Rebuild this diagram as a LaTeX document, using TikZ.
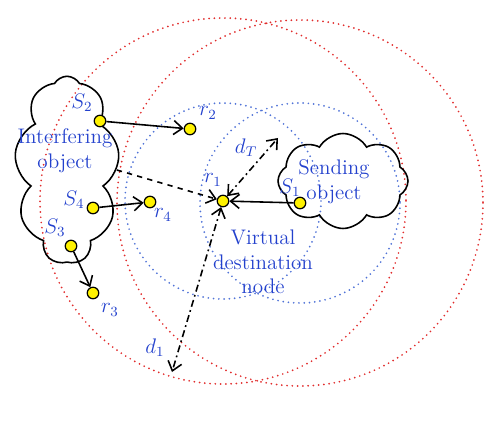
\documentclass[tikz,border=0pt]{standalone}
\usetikzlibrary{shapes.symbols,arrows.meta}
\definecolor{txtblue}{RGB}{35,65,205}
\definecolor{ringred}{RGB}{225,45,45}
\definecolor{ringblue}{RGB}{80,115,215}
\begin{document}
\begin{tikzpicture}[x=0.02cm,y=-0.02cm,
	>={Straight Barb[length=5pt,width=8pt]},
	dot/.style={circle,draw=black,fill=yellow,inner sep=0pt,minimum size=0.23cm,line width=0.7pt},
	lbl/.style={text=txtblue,font=\large,inner sep=0pt},
	objcloud/.style={cloud,draw=black,line width=0.9pt,inner sep=0pt},
	redring/.style={ringred,line width=1.1pt,line cap=round,dash pattern=on 0pt off 3pt},
	bluering/.style={ringblue,line width=1.1pt,line cap=round,dash pattern=on 0pt off 3pt},
	link/.style={->,line width=0.9pt}]
	\useasboundingbox (0,0) rectangle (500,432);
	% coverage rings
	\draw [redring] (223,201) circle (183);
	\draw [redring] (300,203) circle (183);
	\draw [bluering] (223,201) circle (98);
	\draw [bluering] (300,203) circle (100);
	% objects
	\node [objcloud,cloud puffs=9,cloud puff arc=120,aspect=0.55,minimum width=2.1cm,minimum height=3.75cm] (intf) at (67,170) {};
	\node [objcloud,cloud puffs=8,cloud puff arc=120,aspect=1.4,minimum width=2.6cm,minimum height=1.9cm] (send) at (343,181) {};
	\node [lbl,align=center] (intftxt) at (65,151) {Interfering\\object};
	\node [lbl,align=center] (sendtxt) at (334,182) {Sending\\object};
	\node [lbl,align=center] (virt) at (263,262) {Virtual\\destination\\node};
	% stations
	\node [dot] (s1) at (300,203) {};
	\node [dot] (s2) at (100,121) {};
	\node [dot] (s3) at (71,246) {};
	\node [dot] (s4) at (93,208) {};
	\node [dot] (r1) at (223,201) {};
	\node [dot] (r2) at (190,129) {};
	\node [dot] (r3) at (93,293) {};
	\node [dot] (r4) at (150,202) {};
	\node [lbl] (ls1) at (290,188) {$S_1$};
	\node [lbl] (ls2) at (82,103) {$S_2$};
	\node [lbl] (ls3) at (55,228) {$S_3$};
	\node [lbl] (ls4) at (74,200) {$S_4$};
	\node [lbl] (lr1) at (213,180) {$r_1$};
	\node [lbl] (lr2) at (208,113) {$r_2$};
	\node [lbl] (lr3) at (110,310) {$r_3$};
	\node [lbl] (lr4) at (163,215) {$r_4$};
	\node [lbl] (ldt) at (246,148) {$d_T$};
	\node [lbl] (ld1) at (155,348) {$d_1$};
	\coordinate (dtend) at (278,138);
	\coordinate (d1end) at (172,372);
	% links
	\draw [link] (s2) -- (r2);
	\draw [link] (s4) -- (r4);
	\draw [link] (s3) -- (r3);
	\draw [link] (s1) -- (r1);
	\draw [link,dashed] (intf.east) -- (r1);
	\draw [<->,line width=0.9pt,dash pattern=on 4pt off 2pt on 1pt off 2pt] (r1) -- (dtend);
	\draw [<->,line width=0.9pt,dash pattern=on 4pt off 2pt on 1pt off 2pt] (r1) -- (d1end);
\end{tikzpicture}
\end{document}
